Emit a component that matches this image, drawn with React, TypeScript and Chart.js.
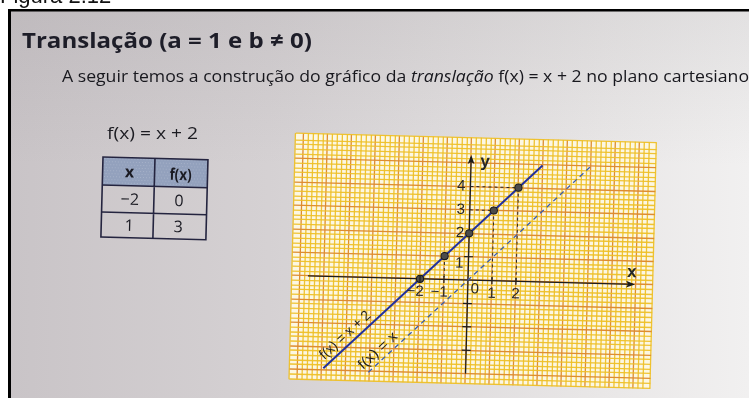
import React, { useEffect, useRef } from "react";
import { Chart, registerables } from "chart.js";

Chart.register(...registerables);

const W = 749;
const H = 398;

// Line f(x) = x + 2 as drawn on the grid (end points)
const translatedX = [-5.93, 2.98];
const translatedY = [-3.93, 4.98];
// Dashed reference line f(x) = x (end points)
const identityX = [-4.05, 4.95];
const identityY = [-4.05, 4.95];
// Plotted points of f(x) = x + 2
const pointX = [-2, -1, 0, 1, 2];
const pointY = [0, 1, 2, 3, 4];
// Dashed projections from the points onto the axes
const guideX = [[-1, -1], [0, 1], [1, 1], [0, 2], [2, 2]];
const guideY = [[1, 0], [3, 3], [3, 0], [4, 4], [4, 0]];
// Axis extents
const xAxisX = [-6.67, 6.88];
const xAxisY = [0, 0];
const yAxisX = [0, 0];
const yAxisY = [-4.0, 5.26];
// Tick labels and tick marks
const xTickValues = [-2, -1, 1, 2];
const xTickLabels = ["−2", "−1", "1", "2"];
const yTickValues = [1, 2, 3, 4];
const yTickLabels = ["1", "2", "3", "4"];
const yMarkValues = [-3, -2, -1, 1];
// Value table
const tableHeader = ["x", "f(x)"];
const tableX = ["−2", "1"];
const tableFx = ["0", "3"];

const TILT = (1.5 * Math.PI) / 180;
const SANS = '"Open Sans", "Liberation Sans", Arial, sans-serif';
const ARIAL = '"Liberation Sans", Arial, sans-serif';

const pts = (xs: number[], ys: number[]) => xs.map((x, i) => ({ x, y: ys[i] }));

function fitText(
  ctx: CanvasRenderingContext2D,
  text: string,
  x: number,
  y: number,
  width: number,
  font: string,
  color: string,
  align: "left" | "center" = "left"
) {
  ctx.save();
  ctx.font = font;
  ctx.fillStyle = color;
  ctx.textAlign = "left";
  ctx.textBaseline = "alphabetic";
  const m = ctx.measureText(text).width;
  const s = width / m;
  const x0 = align === "center" ? x - width / 2 : x;
  ctx.translate(x0, y);
  ctx.scale(s, 1);
  ctx.fillText(text, 0, 0);
  ctx.restore();
}

function drawParagraph(ctx: CanvasRenderingContext2D) {
  const parts: [string, string][] = [
    ["A seguir temos a construção do gráfico da ", `16px ${SANS}`],
    ["translação", `italic 16px ${SANS}`],
    [" f(x) = x + 2 no plano cartesiano", `16px ${SANS}`],
  ];
  let total = 0;
  for (const [t, f] of parts) {
    ctx.font = f;
    total += ctx.measureText(t).width;
  }
  const s = 687 / total;
  ctx.save();
  ctx.translate(62, 82);
  ctx.scale(s, 1);
  ctx.fillStyle = "#18181e";
  ctx.textBaseline = "alphabetic";
  ctx.textAlign = "left";
  let x = 0;
  for (const [t, f] of parts) {
    ctx.font = f;
    ctx.fillText(t, x, 0);
    x += ctx.measureText(t).width;
  }
  ctx.restore();
}

function drawTable(ctx: CanvasRenderingContext2D) {
  const colW = [52, 53];
  const rowH = [28, 27, 25];
  const w = colW[0] + colW[1];
  const h = rowH[0] + rowH[1] + rowH[2];
  ctx.save();
  ctx.translate(103, 157);
  ctx.rotate(TILT);
  // header band
  ctx.fillStyle = "#93a1bd";
  ctx.fillRect(0, 0, w, rowH[0]);
  ctx.fillStyle = "rgba(255,255,255,0.18)";
  for (let yy = 1; yy < rowH[0]; yy += 3) {
    for (let xx = (yy % 2) * 1.5; xx < w; xx += 3) ctx.fillRect(xx, yy, 1, 1);
  }
  // rules
  ctx.strokeStyle = "#24243f";
  ctx.lineWidth = 1.6;
  ctx.strokeRect(0, 0, w, h);
  ctx.beginPath();
  ctx.moveTo(colW[0], 0);
  ctx.lineTo(colW[0], h);
  ctx.moveTo(0, rowH[0]);
  ctx.lineTo(w, rowH[0]);
  ctx.moveTo(0, rowH[0] + rowH[1]);
  ctx.lineTo(w, rowH[0] + rowH[1]);
  ctx.stroke();
  // text
  ctx.fillStyle = "#1a1a22";
  ctx.textBaseline = "middle";
  ctx.textAlign = "center";
  ctx.font = `bold 16px ${SANS}`;
  ctx.fillText(tableHeader[0], 27, 15);
  fitText(ctx, tableHeader[1], 78, 21, 22, `bold 16px ${SANS}`, "#1a1a22", "center");
  ctx.font = `16px ${SANS}`;
  ctx.textBaseline = "middle";
  ctx.textAlign = "center";
  const rowMid = [rowH[0] + rowH[1] / 2, rowH[0] + rowH[1] + rowH[2] / 2];
  tableX.forEach((t, i) => ctx.fillText(t, 28, rowMid[i] + 1));
  tableFx.forEach((t, i) => ctx.fillText(t, 77, rowMid[i] + 1));
  ctx.restore();
}

const pagePlugin = {
  id: "page",
  beforeDraw(chart: any) {
    const ctx: CanvasRenderingContext2D = chart.ctx;
    const { left, top, right, bottom } = chart.chartArea;
    ctx.save();
    ctx.fillStyle = "#ffffff";
    ctx.fillRect(0, 0, W, H);
    const g = ctx.createLinearGradient(10, 0, W, 0);
    g.addColorStop(0, "#c9c4c7");
    g.addColorStop(0.35, "#d5d1d3");
    g.addColorStop(0.8, "#e9e7e7");
    g.addColorStop(1, "#f1f0f0");
    ctx.fillStyle = g;
    ctx.fillRect(10, 10, W - 10, H - 10);
    const v = ctx.createLinearGradient(0, 10, 0, H);
    v.addColorStop(0, "rgba(120,115,120,0.12)");
    v.addColorStop(0.4, "rgba(120,115,120,0)");
    ctx.fillStyle = v;
    ctx.fillRect(10, 10, W - 10, H - 10);
    // frame
    ctx.fillStyle = "#000";
    ctx.fillRect(8, 9, 3, H - 9);
    ctx.fillRect(8, 9, W - 8, 2.5);
    ctx.restore();

    // the printed grid sits slightly tilted on the page
    const ox = chart.scales.x.getPixelForValue(0);
    const oy = chart.scales.y.getPixelForValue(0);
    ctx.save();
    ctx.translate(ox, oy);
    ctx.rotate(TILT);
    ctx.translate(-ox, -oy);
    ctx.fillStyle = "#fcf7e2";
    ctx.fillRect(left, top, right - left, bottom - top);
  },
  afterDatasetsDraw(chart: any) {
    const ctx: CanvasRenderingContext2D = chart.ctx;
    const xs = chart.scales.x;
    const ys = chart.scales.y;
    const px = (v: number) => xs.getPixelForValue(v);
    const py = (v: number) => ys.getPixelForValue(v);
    const ox = px(0);
    const oy = py(0);
    ctx.save();
    ctx.fillStyle = "#1c1c1c";
    ctx.strokeStyle = "#1c1c1c";
    ctx.lineWidth = 1.2;
    // arrow heads
    const ax = px(xAxisX[1]);
    ctx.beginPath();
    ctx.moveTo(ax + 2, oy);
    ctx.lineTo(ax - 7, oy - 3.4);
    ctx.lineTo(ax - 5, oy);
    ctx.lineTo(ax - 7, oy + 3.4);
    ctx.closePath();
    ctx.fill();
    const ay = py(yAxisY[1]);
    ctx.beginPath();
    ctx.moveTo(ox, ay - 2);
    ctx.lineTo(ox - 3.4, ay + 7);
    ctx.lineTo(ox, ay + 5);
    ctx.lineTo(ox + 3.4, ay + 7);
    ctx.closePath();
    ctx.fill();
    // tick marks
    ctx.beginPath();
    xTickValues.forEach((v) => {
      ctx.moveTo(px(v), oy - 3.5);
      ctx.lineTo(px(v), oy + 3.5);
    });
    yMarkValues.forEach((v) => {
      ctx.moveTo(ox - 4.5, py(v));
      ctx.lineTo(ox + 4.5, py(v));
    });
    ctx.stroke();
    // tick labels
    ctx.font = `15px ${ARIAL}`;
    ctx.textBaseline = "middle";
    ctx.fillStyle = "#262626";
    xTickValues.forEach((v, i) => {
      if (v < 0) {
        ctx.textAlign = "right";
        ctx.fillText(xTickLabels[i], px(v) + 4, oy + 13);
      } else {
        ctx.textAlign = "center";
        ctx.fillText(xTickLabels[i], px(v), oy + 13);
      }
    });
    ctx.textAlign = "center";
    ctx.fillText("0", ox + 7, oy + 9);
    ctx.textAlign = "right";
    yTickValues.forEach((v, i) => ctx.fillText(yTickLabels[i], ox - 5, py(v) + (v === 1 ? 7 : 0)));
    // axis names
    ctx.font = `bold 17px ${ARIAL}`;
    ctx.textAlign = "center";
    ctx.fillText("x", px(6.82), oy - 12);
    ctx.fillText("y", ox + 14, py(5.06));
    // line names, written along the lines
    const ang = Math.atan2(py(1) - py(0), px(1) - px(0));
    const along = (t: string, x: number, y: number, width: number) => {
      ctx.save();
      ctx.translate(x, y);
      ctx.rotate(ang);
      ctx.font = `14px ${ARIAL}`;
      const m = ctx.measureText(t).width;
      ctx.scale(width / m, 1);
      ctx.textAlign = "center";
      ctx.textBaseline = "middle";
      ctx.fillStyle = "#1e1e1e";
      ctx.fillText(t, 0, 0);
      ctx.restore();
    };
    along("f(x) = x + 2", px(-5.05), py(-2.5), 64);
    along("f(x) = x", px(-3.67), py(-3.13), 48);
    ctx.restore();
  },
  afterDraw(chart: any) {
    const ctx: CanvasRenderingContext2D = chart.ctx;
    ctx.restore(); // ends the grid tilt
    ctx.save();
    ctx.fillStyle = "#111";
    ctx.font = `22px ${ARIAL}`;
    ctx.textAlign = "left";
    ctx.textBaseline = "alphabetic";
    ctx.fillText("Figura 2.12", 0, 3);
    ctx.restore();
    fitText(ctx, "Translação (a = 1 e b ≠ 0)", 22, 48, 290, `bold 22px ${SANS}`, "#1d1d28");
    drawParagraph(ctx);
    fitText(ctx, "f(x) = x + 2", 107, 139, 91, `16px ${SANS}`, "#1c1c22");
    drawTable(ctx);
  },
};

const gridColor = (c: any) =>
  Math.abs(c.tick.value - Math.round(c.tick.value)) < 1e-6 ? "rgba(222,140,48,1)" : "rgba(238,192,40,0.95)";

export default function App() {
  const ref = useRef<HTMLCanvasElement>(null);
  useEffect(() => {
    const canvas = ref.current;
    if (!canvas) return;
    const line = (xs: number[], ys: number[], extra: any) => ({
      data: pts(xs, ys),
      showLine: true,
      pointRadius: 0,
      fill: false,
      ...extra,
    });
    const chart = new Chart(canvas, {
      type: "scatter",
      data: {
        datasets: [
          {
            label: "pontos",
            data: pts(pointX, pointY),
            showLine: false,
            pointRadius: 3.6,
            pointBackgroundColor: "#4b4b4b",
            pointBorderColor: "#1a1a1a",
            pointBorderWidth: 1,
            order: 0,
          },
          line(translatedX, translatedY, { label: "f(x) = x + 2", borderColor: "#22309c", borderWidth: 2, order: 1 }),
          line(identityX, identityY, {
            label: "f(x) = x",
            borderColor: "#3b5cab",
            borderWidth: 1.3,
            borderDash: [5, 4],
            order: 2,
          }),
          ...guideX.map((gx, i) =>
            line(gx, guideY[i], { label: "guia", borderColor: "#2a2a2a", borderWidth: 1, borderDash: [3, 3], order: 3 })
          ),
          line(xAxisX, xAxisY, { label: "eixo x", borderColor: "#1c1c1c", borderWidth: 1.3, order: 4 }),
          line(yAxisX, yAxisY, { label: "eixo y", borderColor: "#1c1c1c", borderWidth: 1.3, order: 4 }),
        ] as any,
      },
      options: {
        responsive: false,
        animation: false,
        events: [],
        layout: { padding: { left: 292, right: 96, top: 137.5, bottom: 14.5 } },
        plugins: { legend: { display: false }, tooltip: { enabled: false } },
        scales: {
          x: {
            type: "linear",
            min: -7.333,
            max: 7.708,
            border: { display: false },
            ticks: { display: false, stepSize: 0.2, autoSkip: false },
            grid: { drawTicks: false, lineWidth: 1.3, color: gridColor },
          },
          y: {
            type: "linear",
            min: -4.42,
            max: 6.09,
            border: { display: false },
            ticks: { display: false, stepSize: 0.2, autoSkip: false },
            grid: { drawTicks: false, lineWidth: 1.3, color: gridColor },
          },
        },
      },
      plugins: [pagePlugin],
    });
    return () => chart.destroy();
  }, []);
  return (
    <div style={{ position: "fixed", left: 0, top: 0, width: W, height: H, overflow: "hidden" }}>
      <canvas ref={ref} width={W} height={H} style={{ display: "block", width: W, height: H }} />
    </div>
  );
}
